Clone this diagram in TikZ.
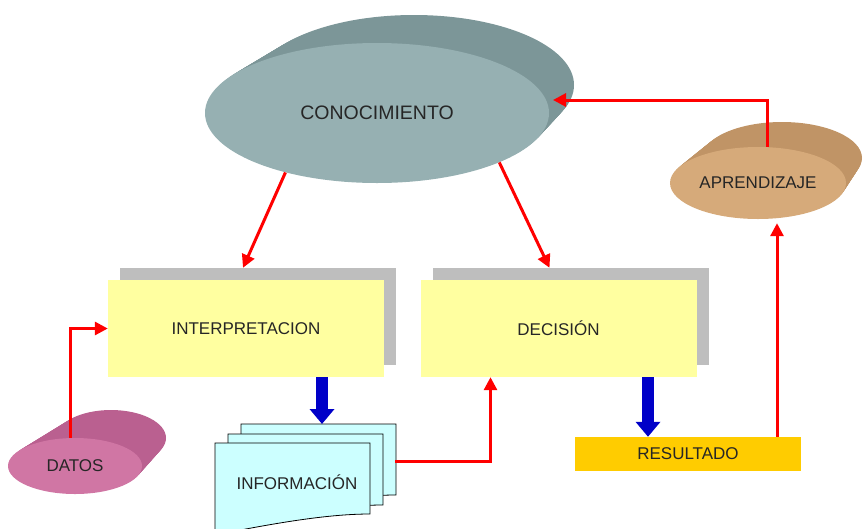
\documentclass[tikz,border=0pt]{standalone}
\usepackage{fontspec}
\setmainfont{Liberation Sans}
\usetikzlibrary{arrows.meta, shapes.geometric, shadows}

\definecolor{conface}{RGB}{150,176,178}
\definecolor{conrim}{RGB}{124,150,152}
\definecolor{aprface}{RGB}{214,170,122}
\definecolor{aprrim}{RGB}{192,148,102}
\definecolor{datface}{RGB}{208,118,164}
\definecolor{datrim}{RGB}{186,96,144}
\definecolor{boxyellow}{RGB}{255,255,160}
\definecolor{shadowgray}{RGB}{190,190,190}
\definecolor{resyellow}{RGB}{255,204,0}
\definecolor{pagecyan}{RGB}{204,255,255}
\definecolor{arrowred}{RGB}{255,0,0}
\definecolor{arrowblue}{RGB}{0,0,200}

\begin{document}
\begin{tikzpicture}[
    x=1pt, y=-1pt,
    txt/.style={font=\fontsize{17}{20}\selectfont, text=black!85},
    disc/.style={ellipse, inner sep=0pt, txt},
    box/.style={rectangle, fill=boxyellow, minimum width=276pt, minimum height=97pt, txt,
        drop shadow={shadow xshift=12pt, shadow yshift=12pt, fill=shadowgray, opacity=1}},
    page/.style={draw=black, fill=pagecyan, line width=0.8pt},
    redarrow/.style={-{Triangle[length=13pt,width=13pt]}, draw=arrowred, line width=3pt},
    bluearrow/.style={-{Triangle[length=15pt,width=24pt]}, draw=arrowblue, line width=12pt}
]
    \useasboundingbox (0,0) rectangle (864,528);

    % discs
    \foreach \s in {20,19,...,1}
        \fill[conrim] (377+1.85*\s,113-1.4*\s) ellipse [x radius=172-0.6*\s, y radius=70];
    \node[disc, fill=conface, minimum width=344pt, minimum height=140pt,
        font=\fontsize{19.5}{22}\selectfont] (con) at (377,113) {CONOCIMIENTO};

    \foreach \s in {20,19,...,1}
        \fill[aprrim] (758+1.2*\s,183-1.25*\s) ellipse [x radius=88-0.4*\s, y radius=36];
    \node[disc, fill=aprface, minimum width=176pt, minimum height=72pt] (apr) at (758,183) {APRENDIZAJE};

    \foreach \s in {20,19,...,1}
        \fill[datrim] (75+1.8*\s,466-1.4*\s) ellipse [x radius=67-0.6*\s, y radius=28];
    \node[disc, fill=datface, minimum width=134pt, minimum height=56pt] (dat) at (75,466) {DATOS};

    % boxes
    \node[box] (interp) at (246,328.5) {INTERPRETACION};
    \node[box] (dec) at (558.5,328.5) {DECISIÓN};
    \node[rectangle, fill=resyellow, minimum width=226pt, minimum height=34pt, txt] (res) at (688,454) {RESULTADO};

    % pages
    \foreach \dx/\dy in {26/19,13/9,0/0}
        \filldraw[page] (215+\dx,443-\dy) -- (370+\dx,443-\dy) -- (370+\dx,514-\dy)
            .. controls (330+\dx,514-\dy) and (280+\dx,522-\dy) .. (215+\dx,535-\dy) -- cycle;
    \node[txt] (info) at (297,482) {INFORMACIÓN};
    \coordinate (infotop) at (322,424);
    \coordinate (inforight) at (395,461);
    \coordinate (conin) at (553,100);

    % arrows
    \draw[redarrow] (con.213) -- ([shift={(-3,-12)}]interp.north);
    \draw[redarrow] (con.338) -- ([shift={(-9,-12)}]dec.north);
    \draw[redarrow] ([xshift=-5pt]dat.north) |- (interp.west);
    \draw[redarrow] (inforight) -| ([xshift=-68pt]dec.south);
    \draw[redarrow] ([xshift=89pt]res.north) -- ([shift={(19,4)}]apr.south);
    \draw[redarrow] ([xshift=9pt]apr.north) |- (conin);

    \draw[bluearrow] ([xshift=76pt]interp.south) -- (infotop);
    \draw[bluearrow] ([xshift=89.5pt]dec.south) -- ([xshift=-40pt]res.north);
\end{tikzpicture}
\end{document}
